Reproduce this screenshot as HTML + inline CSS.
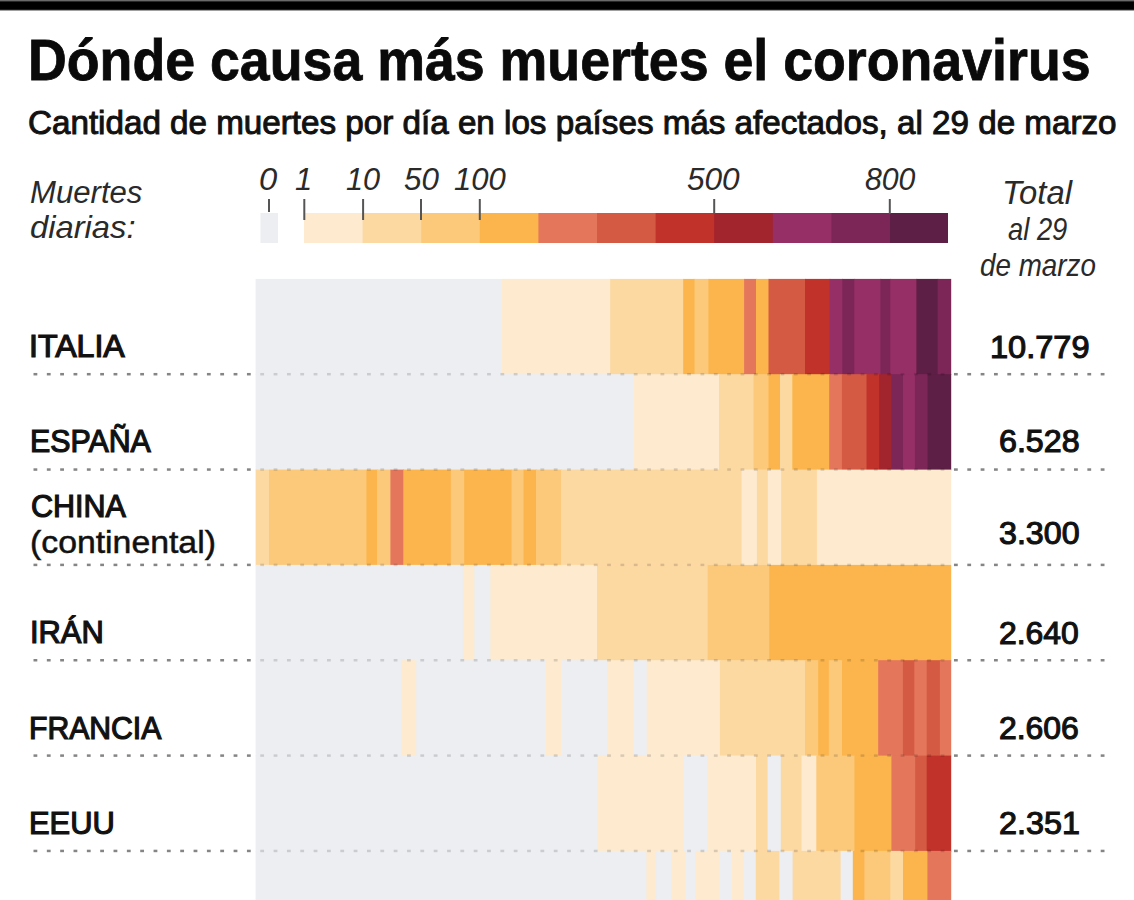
<!DOCTYPE html>
<html><head><meta charset="utf-8">
<style>
html,body{margin:0;padding:0;background:#fff;}
body{width:1134px;height:900px;position:relative;overflow:hidden;font-family:"Liberation Sans",sans-serif;color:#111;}
.t{position:absolute;white-space:nowrap;transform-origin:0 0;line-height:1;}
#bar{position:absolute;left:0;top:0;width:1134px;height:11px;background:linear-gradient(to bottom,#6a6a6a 0px,#6a6a6a 1px,#2a2a2a 1px,#2a2a2a 2px,#000 2px,#000 9px,#1e1e1e 9px,#1e1e1e 10px,#a0a0a0 10px,#a0a0a0 11px);}
</style></head><body>
<div id="bar"></div>
<svg width="1134" height="900" style="position:absolute;left:0;top:0"><rect x="255.6" y="278.9" width="247.2" height="96.1" fill="#eceef2"/><rect x="502.0" y="278.9" width="109.0" height="96.1" fill="#fdeacf"/><rect x="610.2" y="278.9" width="73.8" height="96.1" fill="#fdd9a2"/><rect x="683.2" y="278.9" width="12.1" height="96.1" fill="#fbb54c"/><rect x="694.5" y="278.9" width="14.7" height="96.1" fill="#fcc97b"/><rect x="708.4" y="278.9" width="36.5" height="96.1" fill="#fbb54c"/><rect x="744.1" y="278.9" width="12.7" height="96.1" fill="#e4765b"/><rect x="756.0" y="278.9" width="13.3" height="96.1" fill="#fbb54c"/><rect x="768.5" y="278.9" width="37.3" height="96.1" fill="#d55a43"/><rect x="805.0" y="278.9" width="25.4" height="96.1" fill="#c0322a"/><rect x="829.6" y="278.9" width="13.5" height="96.1" fill="#962f66"/><rect x="842.3" y="278.9" width="12.8" height="96.1" fill="#7c2658"/><rect x="854.3" y="278.9" width="26.9" height="96.1" fill="#962f66"/><rect x="880.4" y="278.9" width="10.7" height="96.1" fill="#7c2658"/><rect x="890.3" y="278.9" width="26.9" height="96.1" fill="#962f66"/><rect x="916.4" y="278.9" width="22.0" height="96.1" fill="#5d1f45"/><rect x="937.6" y="278.9" width="13.6" height="96.1" fill="#7c2658"/><rect x="255.6" y="374.2" width="379.2" height="96.1" fill="#eceef2"/><rect x="634.0" y="374.2" width="85.8" height="96.1" fill="#fdeacf"/><rect x="719.0" y="374.2" width="35.3" height="96.1" fill="#fdd9a2"/><rect x="753.5" y="374.2" width="15.8" height="96.1" fill="#fcc97b"/><rect x="768.5" y="374.2" width="12.3" height="96.1" fill="#fbb54c"/><rect x="780.0" y="374.2" width="13.1" height="96.1" fill="#fdd9a2"/><rect x="792.3" y="374.2" width="37.7" height="96.1" fill="#fbb54c"/><rect x="829.2" y="374.2" width="13.5" height="96.1" fill="#e4765b"/><rect x="841.9" y="374.2" width="25.4" height="96.1" fill="#d55a43"/><rect x="866.5" y="374.2" width="13.5" height="96.1" fill="#c0322a"/><rect x="879.2" y="374.2" width="12.7" height="96.1" fill="#a2242d"/><rect x="891.1" y="374.2" width="12.7" height="96.1" fill="#7c2658"/><rect x="903.0" y="374.2" width="12.7" height="96.1" fill="#962f66"/><rect x="914.9" y="374.2" width="13.5" height="96.1" fill="#7c2658"/><rect x="927.6" y="374.2" width="23.6" height="96.1" fill="#5d1f45"/><rect x="255.6" y="469.6" width="14.2" height="96.1" fill="#fdd9a2"/><rect x="269.0" y="469.6" width="98.2" height="96.1" fill="#fcc97b"/><rect x="366.4" y="469.6" width="11.4" height="96.1" fill="#fbb54c"/><rect x="377.0" y="469.6" width="14.2" height="96.1" fill="#fcc97b"/><rect x="390.4" y="469.6" width="13.7" height="96.1" fill="#e4765b"/><rect x="403.3" y="469.6" width="48.3" height="96.1" fill="#fbb54c"/><rect x="450.8" y="469.6" width="14.2" height="96.1" fill="#fcc97b"/><rect x="464.2" y="469.6" width="48.1" height="96.1" fill="#fbb54c"/><rect x="511.5" y="469.6" width="12.8" height="96.1" fill="#fcc97b"/><rect x="523.5" y="469.6" width="13.3" height="96.1" fill="#fbb54c"/><rect x="536.0" y="469.6" width="25.8" height="96.1" fill="#fcc97b"/><rect x="561.0" y="469.6" width="181.4" height="96.1" fill="#fdd9a2"/><rect x="741.6" y="469.6" width="16.1" height="96.1" fill="#fdeacf"/><rect x="756.9" y="469.6" width="11.7" height="96.1" fill="#fdd9a2"/><rect x="767.8" y="469.6" width="14.1" height="96.1" fill="#fdeacf"/><rect x="781.1" y="469.6" width="36.6" height="96.1" fill="#fdd9a2"/><rect x="816.9" y="469.6" width="134.3" height="96.1" fill="#fdeacf"/><rect x="255.6" y="564.9" width="208.1" height="96.1" fill="#eceef2"/><rect x="462.9" y="564.9" width="12.3" height="96.1" fill="#fdeacf"/><rect x="474.4" y="564.9" width="16.7" height="96.1" fill="#eceef2"/><rect x="490.3" y="564.9" width="107.5" height="96.1" fill="#fdeacf"/><rect x="597.0" y="564.9" width="111.4" height="96.1" fill="#fdd9a2"/><rect x="707.6" y="564.9" width="62.5" height="96.1" fill="#fcc97b"/><rect x="769.3" y="564.9" width="181.9" height="96.1" fill="#fbb54c"/><rect x="255.6" y="660.2" width="146.4" height="96.1" fill="#eceef2"/><rect x="401.2" y="660.2" width="15.8" height="96.1" fill="#fdeacf"/><rect x="416.2" y="660.2" width="130.3" height="96.1" fill="#eceef2"/><rect x="545.7" y="660.2" width="16.1" height="96.1" fill="#fdeacf"/><rect x="561.0" y="660.2" width="47.7" height="96.1" fill="#eceef2"/><rect x="607.9" y="660.2" width="26.4" height="96.1" fill="#fdeacf"/><rect x="633.5" y="660.2" width="14.0" height="96.1" fill="#eceef2"/><rect x="646.7" y="660.2" width="74.0" height="96.1" fill="#fdeacf"/><rect x="719.9" y="660.2" width="85.9" height="96.1" fill="#fdd9a2"/><rect x="805.0" y="660.2" width="14.0" height="96.1" fill="#fcc97b"/><rect x="818.2" y="660.2" width="11.4" height="96.1" fill="#fbb54c"/><rect x="828.8" y="660.2" width="14.0" height="96.1" fill="#fcc97b"/><rect x="842.0" y="660.2" width="37.0" height="96.1" fill="#fbb54c"/><rect x="878.2" y="660.2" width="25.5" height="96.1" fill="#e4765b"/><rect x="902.9" y="660.2" width="12.2" height="96.1" fill="#d55a43"/><rect x="914.3" y="660.2" width="13.2" height="96.1" fill="#e4765b"/><rect x="926.7" y="660.2" width="14.0" height="96.1" fill="#d55a43"/><rect x="939.9" y="660.2" width="11.3" height="96.1" fill="#e4765b"/><rect x="255.6" y="755.6" width="342.2" height="96.1" fill="#eceef2"/><rect x="597.0" y="755.6" width="87.3" height="96.1" fill="#fdeacf"/><rect x="683.5" y="755.6" width="24.6" height="96.1" fill="#eceef2"/><rect x="707.3" y="755.6" width="49.5" height="96.1" fill="#fdeacf"/><rect x="756.0" y="755.6" width="12.4" height="96.1" fill="#fdd9a2"/><rect x="767.6" y="755.6" width="14.0" height="96.1" fill="#eceef2"/><rect x="780.8" y="755.6" width="21.5" height="96.1" fill="#fdd9a2"/><rect x="801.5" y="755.6" width="15.6" height="96.1" fill="#fdeacf"/><rect x="816.3" y="755.6" width="38.9" height="96.1" fill="#fcc97b"/><rect x="854.4" y="755.6" width="37.8" height="96.1" fill="#fbb54c"/><rect x="891.4" y="755.6" width="24.6" height="96.1" fill="#e4765b"/><rect x="915.2" y="755.6" width="12.3" height="96.1" fill="#d55a43"/><rect x="926.7" y="755.6" width="24.5" height="96.1" fill="#c0322a"/><rect x="255.6" y="850.9" width="391.6" height="96.1" fill="#eceef2"/><rect x="646.4" y="850.9" width="10.5" height="96.1" fill="#fdeacf"/><rect x="656.1" y="850.9" width="15.8" height="96.1" fill="#eceef2"/><rect x="671.1" y="850.9" width="14.9" height="96.1" fill="#fdeacf"/><rect x="685.2" y="850.9" width="11.4" height="96.1" fill="#eceef2"/><rect x="695.8" y="850.9" width="24.6" height="96.1" fill="#fdeacf"/><rect x="719.6" y="850.9" width="13.2" height="96.1" fill="#eceef2"/><rect x="732.0" y="850.9" width="12.2" height="96.1" fill="#fdeacf"/><rect x="743.4" y="850.9" width="13.2" height="96.1" fill="#eceef2"/><rect x="755.8" y="850.9" width="24.4" height="96.1" fill="#fdd9a2"/><rect x="779.4" y="850.9" width="14.0" height="96.1" fill="#eceef2"/><rect x="792.6" y="850.9" width="48.8" height="96.1" fill="#fdd9a2"/><rect x="840.6" y="850.9" width="13.0" height="96.1" fill="#eceef2"/><rect x="852.8" y="850.9" width="12.4" height="96.1" fill="#fbb54c"/><rect x="864.4" y="850.9" width="26.7" height="96.1" fill="#fcc97b"/><rect x="890.3" y="850.9" width="13.5" height="96.1" fill="#fdd9a2"/><rect x="903.0" y="850.9" width="25.2" height="96.1" fill="#fbb54c"/><rect x="927.4" y="850.9" width="23.8" height="96.1" fill="#e4765b"/><rect x="33.50" y="372.95" width="3.8" height="2.5" fill="#858585"/><rect x="46.84" y="372.95" width="3.8" height="2.5" fill="#858585"/><rect x="60.18" y="372.95" width="3.8" height="2.5" fill="#858585"/><rect x="73.52" y="372.95" width="3.8" height="2.5" fill="#858585"/><rect x="86.86" y="372.95" width="3.8" height="2.5" fill="#858585"/><rect x="100.20" y="372.95" width="3.8" height="2.5" fill="#858585"/><rect x="113.54" y="372.95" width="3.8" height="2.5" fill="#858585"/><rect x="126.88" y="372.95" width="3.8" height="2.5" fill="#858585"/><rect x="140.22" y="372.95" width="3.8" height="2.5" fill="#858585"/><rect x="153.56" y="372.95" width="3.8" height="2.5" fill="#858585"/><rect x="166.90" y="372.95" width="3.8" height="2.5" fill="#858585"/><rect x="180.24" y="372.95" width="3.8" height="2.5" fill="#858585"/><rect x="193.58" y="372.95" width="3.8" height="2.5" fill="#858585"/><rect x="206.92" y="372.95" width="3.8" height="2.5" fill="#858585"/><rect x="220.26" y="372.95" width="3.8" height="2.5" fill="#858585"/><rect x="233.60" y="372.95" width="3.8" height="2.5" fill="#858585"/><rect x="246.94" y="372.95" width="3.8" height="2.5" fill="#858585"/><rect x="260.28" y="372.95" width="3.8" height="2.5" fill="rgba(0,0,0,0.14)"/><rect x="273.62" y="372.95" width="3.8" height="2.5" fill="rgba(0,0,0,0.14)"/><rect x="286.96" y="372.95" width="3.8" height="2.5" fill="rgba(0,0,0,0.14)"/><rect x="300.30" y="372.95" width="3.8" height="2.5" fill="rgba(0,0,0,0.14)"/><rect x="313.64" y="372.95" width="3.8" height="2.5" fill="rgba(0,0,0,0.14)"/><rect x="326.98" y="372.95" width="3.8" height="2.5" fill="rgba(0,0,0,0.14)"/><rect x="340.32" y="372.95" width="3.8" height="2.5" fill="rgba(0,0,0,0.14)"/><rect x="353.66" y="372.95" width="3.8" height="2.5" fill="rgba(0,0,0,0.14)"/><rect x="367.00" y="372.95" width="3.8" height="2.5" fill="rgba(0,0,0,0.14)"/><rect x="380.34" y="372.95" width="3.8" height="2.5" fill="rgba(0,0,0,0.14)"/><rect x="393.68" y="372.95" width="3.8" height="2.5" fill="rgba(0,0,0,0.14)"/><rect x="407.02" y="372.95" width="3.8" height="2.5" fill="rgba(0,0,0,0.14)"/><rect x="420.36" y="372.95" width="3.8" height="2.5" fill="rgba(0,0,0,0.14)"/><rect x="433.70" y="372.95" width="3.8" height="2.5" fill="rgba(0,0,0,0.14)"/><rect x="447.04" y="372.95" width="3.8" height="2.5" fill="rgba(0,0,0,0.14)"/><rect x="460.38" y="372.95" width="3.8" height="2.5" fill="rgba(0,0,0,0.14)"/><rect x="473.72" y="372.95" width="3.8" height="2.5" fill="rgba(0,0,0,0.14)"/><rect x="487.06" y="372.95" width="3.8" height="2.5" fill="rgba(0,0,0,0.14)"/><rect x="500.40" y="372.95" width="3.8" height="2.5" fill="rgba(0,0,0,0.14)"/><rect x="513.74" y="372.95" width="3.8" height="2.5" fill="rgba(0,0,0,0.14)"/><rect x="527.08" y="372.95" width="3.8" height="2.5" fill="rgba(0,0,0,0.14)"/><rect x="540.42" y="372.95" width="3.8" height="2.5" fill="rgba(0,0,0,0.14)"/><rect x="553.76" y="372.95" width="3.8" height="2.5" fill="rgba(0,0,0,0.14)"/><rect x="567.10" y="372.95" width="3.8" height="2.5" fill="rgba(0,0,0,0.14)"/><rect x="580.44" y="372.95" width="3.8" height="2.5" fill="rgba(0,0,0,0.14)"/><rect x="593.78" y="372.95" width="3.8" height="2.5" fill="rgba(0,0,0,0.14)"/><rect x="607.12" y="372.95" width="3.8" height="2.5" fill="rgba(0,0,0,0.14)"/><rect x="620.46" y="372.95" width="3.8" height="2.5" fill="rgba(0,0,0,0.14)"/><rect x="633.80" y="372.95" width="3.8" height="2.5" fill="rgba(0,0,0,0.14)"/><rect x="647.14" y="372.95" width="3.8" height="2.5" fill="rgba(0,0,0,0.14)"/><rect x="660.48" y="372.95" width="3.8" height="2.5" fill="rgba(0,0,0,0.14)"/><rect x="673.82" y="372.95" width="3.8" height="2.5" fill="rgba(0,0,0,0.14)"/><rect x="687.16" y="372.95" width="3.8" height="2.5" fill="rgba(0,0,0,0.14)"/><rect x="700.50" y="372.95" width="3.8" height="2.5" fill="rgba(0,0,0,0.14)"/><rect x="713.84" y="372.95" width="3.8" height="2.5" fill="rgba(0,0,0,0.14)"/><rect x="727.18" y="372.95" width="3.8" height="2.5" fill="rgba(0,0,0,0.14)"/><rect x="740.52" y="372.95" width="3.8" height="2.5" fill="rgba(0,0,0,0.14)"/><rect x="753.86" y="372.95" width="3.8" height="2.5" fill="rgba(0,0,0,0.14)"/><rect x="767.20" y="372.95" width="3.8" height="2.5" fill="rgba(0,0,0,0.14)"/><rect x="780.54" y="372.95" width="3.8" height="2.5" fill="rgba(0,0,0,0.14)"/><rect x="793.88" y="372.95" width="3.8" height="2.5" fill="rgba(0,0,0,0.14)"/><rect x="807.22" y="372.95" width="3.8" height="2.5" fill="rgba(0,0,0,0.14)"/><rect x="820.56" y="372.95" width="3.8" height="2.5" fill="rgba(0,0,0,0.14)"/><rect x="833.90" y="372.95" width="3.8" height="2.5" fill="rgba(0,0,0,0.14)"/><rect x="847.24" y="372.95" width="3.8" height="2.5" fill="rgba(0,0,0,0.14)"/><rect x="860.58" y="372.95" width="3.8" height="2.5" fill="rgba(0,0,0,0.14)"/><rect x="873.92" y="372.95" width="3.8" height="2.5" fill="rgba(0,0,0,0.14)"/><rect x="887.26" y="372.95" width="3.8" height="2.5" fill="rgba(0,0,0,0.14)"/><rect x="900.60" y="372.95" width="3.8" height="2.5" fill="rgba(0,0,0,0.14)"/><rect x="913.94" y="372.95" width="3.8" height="2.5" fill="rgba(0,0,0,0.14)"/><rect x="927.28" y="372.95" width="3.8" height="2.5" fill="rgba(0,0,0,0.14)"/><rect x="940.62" y="372.95" width="3.8" height="2.5" fill="rgba(0,0,0,0.14)"/><rect x="953.96" y="372.95" width="3.8" height="2.5" fill="#858585"/><rect x="967.30" y="372.95" width="3.8" height="2.5" fill="#858585"/><rect x="980.64" y="372.95" width="3.8" height="2.5" fill="#858585"/><rect x="993.98" y="372.95" width="3.8" height="2.5" fill="#858585"/><rect x="1007.32" y="372.95" width="3.8" height="2.5" fill="#858585"/><rect x="1020.66" y="372.95" width="3.8" height="2.5" fill="#858585"/><rect x="1034.00" y="372.95" width="3.8" height="2.5" fill="#858585"/><rect x="1047.34" y="372.95" width="3.8" height="2.5" fill="#858585"/><rect x="1060.68" y="372.95" width="3.8" height="2.5" fill="#858585"/><rect x="1074.02" y="372.95" width="3.8" height="2.5" fill="#858585"/><rect x="1087.36" y="372.95" width="3.8" height="2.5" fill="#858585"/><rect x="1100.70" y="372.95" width="3.8" height="2.5" fill="#858585"/><rect x="33.50" y="468.30" width="3.8" height="2.5" fill="#858585"/><rect x="46.84" y="468.30" width="3.8" height="2.5" fill="#858585"/><rect x="60.18" y="468.30" width="3.8" height="2.5" fill="#858585"/><rect x="73.52" y="468.30" width="3.8" height="2.5" fill="#858585"/><rect x="86.86" y="468.30" width="3.8" height="2.5" fill="#858585"/><rect x="100.20" y="468.30" width="3.8" height="2.5" fill="#858585"/><rect x="113.54" y="468.30" width="3.8" height="2.5" fill="#858585"/><rect x="126.88" y="468.30" width="3.8" height="2.5" fill="#858585"/><rect x="140.22" y="468.30" width="3.8" height="2.5" fill="#858585"/><rect x="153.56" y="468.30" width="3.8" height="2.5" fill="#858585"/><rect x="166.90" y="468.30" width="3.8" height="2.5" fill="#858585"/><rect x="180.24" y="468.30" width="3.8" height="2.5" fill="#858585"/><rect x="193.58" y="468.30" width="3.8" height="2.5" fill="#858585"/><rect x="206.92" y="468.30" width="3.8" height="2.5" fill="#858585"/><rect x="220.26" y="468.30" width="3.8" height="2.5" fill="#858585"/><rect x="233.60" y="468.30" width="3.8" height="2.5" fill="#858585"/><rect x="246.94" y="468.30" width="3.8" height="2.5" fill="#858585"/><rect x="260.28" y="468.30" width="3.8" height="2.5" fill="rgba(0,0,0,0.14)"/><rect x="273.62" y="468.30" width="3.8" height="2.5" fill="rgba(0,0,0,0.14)"/><rect x="286.96" y="468.30" width="3.8" height="2.5" fill="rgba(0,0,0,0.14)"/><rect x="300.30" y="468.30" width="3.8" height="2.5" fill="rgba(0,0,0,0.14)"/><rect x="313.64" y="468.30" width="3.8" height="2.5" fill="rgba(0,0,0,0.14)"/><rect x="326.98" y="468.30" width="3.8" height="2.5" fill="rgba(0,0,0,0.14)"/><rect x="340.32" y="468.30" width="3.8" height="2.5" fill="rgba(0,0,0,0.14)"/><rect x="353.66" y="468.30" width="3.8" height="2.5" fill="rgba(0,0,0,0.14)"/><rect x="367.00" y="468.30" width="3.8" height="2.5" fill="rgba(0,0,0,0.14)"/><rect x="380.34" y="468.30" width="3.8" height="2.5" fill="rgba(0,0,0,0.14)"/><rect x="393.68" y="468.30" width="3.8" height="2.5" fill="rgba(0,0,0,0.14)"/><rect x="407.02" y="468.30" width="3.8" height="2.5" fill="rgba(0,0,0,0.14)"/><rect x="420.36" y="468.30" width="3.8" height="2.5" fill="rgba(0,0,0,0.14)"/><rect x="433.70" y="468.30" width="3.8" height="2.5" fill="rgba(0,0,0,0.14)"/><rect x="447.04" y="468.30" width="3.8" height="2.5" fill="rgba(0,0,0,0.14)"/><rect x="460.38" y="468.30" width="3.8" height="2.5" fill="rgba(0,0,0,0.14)"/><rect x="473.72" y="468.30" width="3.8" height="2.5" fill="rgba(0,0,0,0.14)"/><rect x="487.06" y="468.30" width="3.8" height="2.5" fill="rgba(0,0,0,0.14)"/><rect x="500.40" y="468.30" width="3.8" height="2.5" fill="rgba(0,0,0,0.14)"/><rect x="513.74" y="468.30" width="3.8" height="2.5" fill="rgba(0,0,0,0.14)"/><rect x="527.08" y="468.30" width="3.8" height="2.5" fill="rgba(0,0,0,0.14)"/><rect x="540.42" y="468.30" width="3.8" height="2.5" fill="rgba(0,0,0,0.14)"/><rect x="553.76" y="468.30" width="3.8" height="2.5" fill="rgba(0,0,0,0.14)"/><rect x="567.10" y="468.30" width="3.8" height="2.5" fill="rgba(0,0,0,0.14)"/><rect x="580.44" y="468.30" width="3.8" height="2.5" fill="rgba(0,0,0,0.14)"/><rect x="593.78" y="468.30" width="3.8" height="2.5" fill="rgba(0,0,0,0.14)"/><rect x="607.12" y="468.30" width="3.8" height="2.5" fill="rgba(0,0,0,0.14)"/><rect x="620.46" y="468.30" width="3.8" height="2.5" fill="rgba(0,0,0,0.14)"/><rect x="633.80" y="468.30" width="3.8" height="2.5" fill="rgba(0,0,0,0.14)"/><rect x="647.14" y="468.30" width="3.8" height="2.5" fill="rgba(0,0,0,0.14)"/><rect x="660.48" y="468.30" width="3.8" height="2.5" fill="rgba(0,0,0,0.14)"/><rect x="673.82" y="468.30" width="3.8" height="2.5" fill="rgba(0,0,0,0.14)"/><rect x="687.16" y="468.30" width="3.8" height="2.5" fill="rgba(0,0,0,0.14)"/><rect x="700.50" y="468.30" width="3.8" height="2.5" fill="rgba(0,0,0,0.14)"/><rect x="713.84" y="468.30" width="3.8" height="2.5" fill="rgba(0,0,0,0.14)"/><rect x="727.18" y="468.30" width="3.8" height="2.5" fill="rgba(0,0,0,0.14)"/><rect x="740.52" y="468.30" width="3.8" height="2.5" fill="rgba(0,0,0,0.14)"/><rect x="753.86" y="468.30" width="3.8" height="2.5" fill="rgba(0,0,0,0.14)"/><rect x="767.20" y="468.30" width="3.8" height="2.5" fill="rgba(0,0,0,0.14)"/><rect x="780.54" y="468.30" width="3.8" height="2.5" fill="rgba(0,0,0,0.14)"/><rect x="793.88" y="468.30" width="3.8" height="2.5" fill="rgba(0,0,0,0.14)"/><rect x="807.22" y="468.30" width="3.8" height="2.5" fill="rgba(0,0,0,0.14)"/><rect x="820.56" y="468.30" width="3.8" height="2.5" fill="rgba(0,0,0,0.14)"/><rect x="833.90" y="468.30" width="3.8" height="2.5" fill="rgba(0,0,0,0.14)"/><rect x="847.24" y="468.30" width="3.8" height="2.5" fill="rgba(0,0,0,0.14)"/><rect x="860.58" y="468.30" width="3.8" height="2.5" fill="rgba(0,0,0,0.14)"/><rect x="873.92" y="468.30" width="3.8" height="2.5" fill="rgba(0,0,0,0.14)"/><rect x="887.26" y="468.30" width="3.8" height="2.5" fill="rgba(0,0,0,0.14)"/><rect x="900.60" y="468.30" width="3.8" height="2.5" fill="rgba(0,0,0,0.14)"/><rect x="913.94" y="468.30" width="3.8" height="2.5" fill="rgba(0,0,0,0.14)"/><rect x="927.28" y="468.30" width="3.8" height="2.5" fill="rgba(0,0,0,0.14)"/><rect x="940.62" y="468.30" width="3.8" height="2.5" fill="rgba(0,0,0,0.14)"/><rect x="953.96" y="468.30" width="3.8" height="2.5" fill="#858585"/><rect x="967.30" y="468.30" width="3.8" height="2.5" fill="#858585"/><rect x="980.64" y="468.30" width="3.8" height="2.5" fill="#858585"/><rect x="993.98" y="468.30" width="3.8" height="2.5" fill="#858585"/><rect x="1007.32" y="468.30" width="3.8" height="2.5" fill="#858585"/><rect x="1020.66" y="468.30" width="3.8" height="2.5" fill="#858585"/><rect x="1034.00" y="468.30" width="3.8" height="2.5" fill="#858585"/><rect x="1047.34" y="468.30" width="3.8" height="2.5" fill="#858585"/><rect x="1060.68" y="468.30" width="3.8" height="2.5" fill="#858585"/><rect x="1074.02" y="468.30" width="3.8" height="2.5" fill="#858585"/><rect x="1087.36" y="468.30" width="3.8" height="2.5" fill="#858585"/><rect x="1100.70" y="468.30" width="3.8" height="2.5" fill="#858585"/><rect x="33.50" y="563.65" width="3.8" height="2.5" fill="#858585"/><rect x="46.84" y="563.65" width="3.8" height="2.5" fill="#858585"/><rect x="60.18" y="563.65" width="3.8" height="2.5" fill="#858585"/><rect x="73.52" y="563.65" width="3.8" height="2.5" fill="#858585"/><rect x="86.86" y="563.65" width="3.8" height="2.5" fill="#858585"/><rect x="100.20" y="563.65" width="3.8" height="2.5" fill="#858585"/><rect x="113.54" y="563.65" width="3.8" height="2.5" fill="#858585"/><rect x="126.88" y="563.65" width="3.8" height="2.5" fill="#858585"/><rect x="140.22" y="563.65" width="3.8" height="2.5" fill="#858585"/><rect x="153.56" y="563.65" width="3.8" height="2.5" fill="#858585"/><rect x="166.90" y="563.65" width="3.8" height="2.5" fill="#858585"/><rect x="180.24" y="563.65" width="3.8" height="2.5" fill="#858585"/><rect x="193.58" y="563.65" width="3.8" height="2.5" fill="#858585"/><rect x="206.92" y="563.65" width="3.8" height="2.5" fill="#858585"/><rect x="220.26" y="563.65" width="3.8" height="2.5" fill="#858585"/><rect x="233.60" y="563.65" width="3.8" height="2.5" fill="#858585"/><rect x="246.94" y="563.65" width="3.8" height="2.5" fill="#858585"/><rect x="260.28" y="563.65" width="3.8" height="2.5" fill="rgba(0,0,0,0.14)"/><rect x="273.62" y="563.65" width="3.8" height="2.5" fill="rgba(0,0,0,0.14)"/><rect x="286.96" y="563.65" width="3.8" height="2.5" fill="rgba(0,0,0,0.14)"/><rect x="300.30" y="563.65" width="3.8" height="2.5" fill="rgba(0,0,0,0.14)"/><rect x="313.64" y="563.65" width="3.8" height="2.5" fill="rgba(0,0,0,0.14)"/><rect x="326.98" y="563.65" width="3.8" height="2.5" fill="rgba(0,0,0,0.14)"/><rect x="340.32" y="563.65" width="3.8" height="2.5" fill="rgba(0,0,0,0.14)"/><rect x="353.66" y="563.65" width="3.8" height="2.5" fill="rgba(0,0,0,0.14)"/><rect x="367.00" y="563.65" width="3.8" height="2.5" fill="rgba(0,0,0,0.14)"/><rect x="380.34" y="563.65" width="3.8" height="2.5" fill="rgba(0,0,0,0.14)"/><rect x="393.68" y="563.65" width="3.8" height="2.5" fill="rgba(0,0,0,0.14)"/><rect x="407.02" y="563.65" width="3.8" height="2.5" fill="rgba(0,0,0,0.14)"/><rect x="420.36" y="563.65" width="3.8" height="2.5" fill="rgba(0,0,0,0.14)"/><rect x="433.70" y="563.65" width="3.8" height="2.5" fill="rgba(0,0,0,0.14)"/><rect x="447.04" y="563.65" width="3.8" height="2.5" fill="rgba(0,0,0,0.14)"/><rect x="460.38" y="563.65" width="3.8" height="2.5" fill="rgba(0,0,0,0.14)"/><rect x="473.72" y="563.65" width="3.8" height="2.5" fill="rgba(0,0,0,0.14)"/><rect x="487.06" y="563.65" width="3.8" height="2.5" fill="rgba(0,0,0,0.14)"/><rect x="500.40" y="563.65" width="3.8" height="2.5" fill="rgba(0,0,0,0.14)"/><rect x="513.74" y="563.65" width="3.8" height="2.5" fill="rgba(0,0,0,0.14)"/><rect x="527.08" y="563.65" width="3.8" height="2.5" fill="rgba(0,0,0,0.14)"/><rect x="540.42" y="563.65" width="3.8" height="2.5" fill="rgba(0,0,0,0.14)"/><rect x="553.76" y="563.65" width="3.8" height="2.5" fill="rgba(0,0,0,0.14)"/><rect x="567.10" y="563.65" width="3.8" height="2.5" fill="rgba(0,0,0,0.14)"/><rect x="580.44" y="563.65" width="3.8" height="2.5" fill="rgba(0,0,0,0.14)"/><rect x="593.78" y="563.65" width="3.8" height="2.5" fill="rgba(0,0,0,0.14)"/><rect x="607.12" y="563.65" width="3.8" height="2.5" fill="rgba(0,0,0,0.14)"/><rect x="620.46" y="563.65" width="3.8" height="2.5" fill="rgba(0,0,0,0.14)"/><rect x="633.80" y="563.65" width="3.8" height="2.5" fill="rgba(0,0,0,0.14)"/><rect x="647.14" y="563.65" width="3.8" height="2.5" fill="rgba(0,0,0,0.14)"/><rect x="660.48" y="563.65" width="3.8" height="2.5" fill="rgba(0,0,0,0.14)"/><rect x="673.82" y="563.65" width="3.8" height="2.5" fill="rgba(0,0,0,0.14)"/><rect x="687.16" y="563.65" width="3.8" height="2.5" fill="rgba(0,0,0,0.14)"/><rect x="700.50" y="563.65" width="3.8" height="2.5" fill="rgba(0,0,0,0.14)"/><rect x="713.84" y="563.65" width="3.8" height="2.5" fill="rgba(0,0,0,0.14)"/><rect x="727.18" y="563.65" width="3.8" height="2.5" fill="rgba(0,0,0,0.14)"/><rect x="740.52" y="563.65" width="3.8" height="2.5" fill="rgba(0,0,0,0.14)"/><rect x="753.86" y="563.65" width="3.8" height="2.5" fill="rgba(0,0,0,0.14)"/><rect x="767.20" y="563.65" width="3.8" height="2.5" fill="rgba(0,0,0,0.14)"/><rect x="780.54" y="563.65" width="3.8" height="2.5" fill="rgba(0,0,0,0.14)"/><rect x="793.88" y="563.65" width="3.8" height="2.5" fill="rgba(0,0,0,0.14)"/><rect x="807.22" y="563.65" width="3.8" height="2.5" fill="rgba(0,0,0,0.14)"/><rect x="820.56" y="563.65" width="3.8" height="2.5" fill="rgba(0,0,0,0.14)"/><rect x="833.90" y="563.65" width="3.8" height="2.5" fill="rgba(0,0,0,0.14)"/><rect x="847.24" y="563.65" width="3.8" height="2.5" fill="rgba(0,0,0,0.14)"/><rect x="860.58" y="563.65" width="3.8" height="2.5" fill="rgba(0,0,0,0.14)"/><rect x="873.92" y="563.65" width="3.8" height="2.5" fill="rgba(0,0,0,0.14)"/><rect x="887.26" y="563.65" width="3.8" height="2.5" fill="rgba(0,0,0,0.14)"/><rect x="900.60" y="563.65" width="3.8" height="2.5" fill="rgba(0,0,0,0.14)"/><rect x="913.94" y="563.65" width="3.8" height="2.5" fill="rgba(0,0,0,0.14)"/><rect x="927.28" y="563.65" width="3.8" height="2.5" fill="rgba(0,0,0,0.14)"/><rect x="940.62" y="563.65" width="3.8" height="2.5" fill="rgba(0,0,0,0.14)"/><rect x="953.96" y="563.65" width="3.8" height="2.5" fill="#858585"/><rect x="967.30" y="563.65" width="3.8" height="2.5" fill="#858585"/><rect x="980.64" y="563.65" width="3.8" height="2.5" fill="#858585"/><rect x="993.98" y="563.65" width="3.8" height="2.5" fill="#858585"/><rect x="1007.32" y="563.65" width="3.8" height="2.5" fill="#858585"/><rect x="1020.66" y="563.65" width="3.8" height="2.5" fill="#858585"/><rect x="1034.00" y="563.65" width="3.8" height="2.5" fill="#858585"/><rect x="1047.34" y="563.65" width="3.8" height="2.5" fill="#858585"/><rect x="1060.68" y="563.65" width="3.8" height="2.5" fill="#858585"/><rect x="1074.02" y="563.65" width="3.8" height="2.5" fill="#858585"/><rect x="1087.36" y="563.65" width="3.8" height="2.5" fill="#858585"/><rect x="1100.70" y="563.65" width="3.8" height="2.5" fill="#858585"/><rect x="33.50" y="659.00" width="3.8" height="2.5" fill="#858585"/><rect x="46.84" y="659.00" width="3.8" height="2.5" fill="#858585"/><rect x="60.18" y="659.00" width="3.8" height="2.5" fill="#858585"/><rect x="73.52" y="659.00" width="3.8" height="2.5" fill="#858585"/><rect x="86.86" y="659.00" width="3.8" height="2.5" fill="#858585"/><rect x="100.20" y="659.00" width="3.8" height="2.5" fill="#858585"/><rect x="113.54" y="659.00" width="3.8" height="2.5" fill="#858585"/><rect x="126.88" y="659.00" width="3.8" height="2.5" fill="#858585"/><rect x="140.22" y="659.00" width="3.8" height="2.5" fill="#858585"/><rect x="153.56" y="659.00" width="3.8" height="2.5" fill="#858585"/><rect x="166.90" y="659.00" width="3.8" height="2.5" fill="#858585"/><rect x="180.24" y="659.00" width="3.8" height="2.5" fill="#858585"/><rect x="193.58" y="659.00" width="3.8" height="2.5" fill="#858585"/><rect x="206.92" y="659.00" width="3.8" height="2.5" fill="#858585"/><rect x="220.26" y="659.00" width="3.8" height="2.5" fill="#858585"/><rect x="233.60" y="659.00" width="3.8" height="2.5" fill="#858585"/><rect x="246.94" y="659.00" width="3.8" height="2.5" fill="#858585"/><rect x="260.28" y="659.00" width="3.8" height="2.5" fill="rgba(0,0,0,0.14)"/><rect x="273.62" y="659.00" width="3.8" height="2.5" fill="rgba(0,0,0,0.14)"/><rect x="286.96" y="659.00" width="3.8" height="2.5" fill="rgba(0,0,0,0.14)"/><rect x="300.30" y="659.00" width="3.8" height="2.5" fill="rgba(0,0,0,0.14)"/><rect x="313.64" y="659.00" width="3.8" height="2.5" fill="rgba(0,0,0,0.14)"/><rect x="326.98" y="659.00" width="3.8" height="2.5" fill="rgba(0,0,0,0.14)"/><rect x="340.32" y="659.00" width="3.8" height="2.5" fill="rgba(0,0,0,0.14)"/><rect x="353.66" y="659.00" width="3.8" height="2.5" fill="rgba(0,0,0,0.14)"/><rect x="367.00" y="659.00" width="3.8" height="2.5" fill="rgba(0,0,0,0.14)"/><rect x="380.34" y="659.00" width="3.8" height="2.5" fill="rgba(0,0,0,0.14)"/><rect x="393.68" y="659.00" width="3.8" height="2.5" fill="rgba(0,0,0,0.14)"/><rect x="407.02" y="659.00" width="3.8" height="2.5" fill="rgba(0,0,0,0.14)"/><rect x="420.36" y="659.00" width="3.8" height="2.5" fill="rgba(0,0,0,0.14)"/><rect x="433.70" y="659.00" width="3.8" height="2.5" fill="rgba(0,0,0,0.14)"/><rect x="447.04" y="659.00" width="3.8" height="2.5" fill="rgba(0,0,0,0.14)"/><rect x="460.38" y="659.00" width="3.8" height="2.5" fill="rgba(0,0,0,0.14)"/><rect x="473.72" y="659.00" width="3.8" height="2.5" fill="rgba(0,0,0,0.14)"/><rect x="487.06" y="659.00" width="3.8" height="2.5" fill="rgba(0,0,0,0.14)"/><rect x="500.40" y="659.00" width="3.8" height="2.5" fill="rgba(0,0,0,0.14)"/><rect x="513.74" y="659.00" width="3.8" height="2.5" fill="rgba(0,0,0,0.14)"/><rect x="527.08" y="659.00" width="3.8" height="2.5" fill="rgba(0,0,0,0.14)"/><rect x="540.42" y="659.00" width="3.8" height="2.5" fill="rgba(0,0,0,0.14)"/><rect x="553.76" y="659.00" width="3.8" height="2.5" fill="rgba(0,0,0,0.14)"/><rect x="567.10" y="659.00" width="3.8" height="2.5" fill="rgba(0,0,0,0.14)"/><rect x="580.44" y="659.00" width="3.8" height="2.5" fill="rgba(0,0,0,0.14)"/><rect x="593.78" y="659.00" width="3.8" height="2.5" fill="rgba(0,0,0,0.14)"/><rect x="607.12" y="659.00" width="3.8" height="2.5" fill="rgba(0,0,0,0.14)"/><rect x="620.46" y="659.00" width="3.8" height="2.5" fill="rgba(0,0,0,0.14)"/><rect x="633.80" y="659.00" width="3.8" height="2.5" fill="rgba(0,0,0,0.14)"/><rect x="647.14" y="659.00" width="3.8" height="2.5" fill="rgba(0,0,0,0.14)"/><rect x="660.48" y="659.00" width="3.8" height="2.5" fill="rgba(0,0,0,0.14)"/><rect x="673.82" y="659.00" width="3.8" height="2.5" fill="rgba(0,0,0,0.14)"/><rect x="687.16" y="659.00" width="3.8" height="2.5" fill="rgba(0,0,0,0.14)"/><rect x="700.50" y="659.00" width="3.8" height="2.5" fill="rgba(0,0,0,0.14)"/><rect x="713.84" y="659.00" width="3.8" height="2.5" fill="rgba(0,0,0,0.14)"/><rect x="727.18" y="659.00" width="3.8" height="2.5" fill="rgba(0,0,0,0.14)"/><rect x="740.52" y="659.00" width="3.8" height="2.5" fill="rgba(0,0,0,0.14)"/><rect x="753.86" y="659.00" width="3.8" height="2.5" fill="rgba(0,0,0,0.14)"/><rect x="767.20" y="659.00" width="3.8" height="2.5" fill="rgba(0,0,0,0.14)"/><rect x="780.54" y="659.00" width="3.8" height="2.5" fill="rgba(0,0,0,0.14)"/><rect x="793.88" y="659.00" width="3.8" height="2.5" fill="rgba(0,0,0,0.14)"/><rect x="807.22" y="659.00" width="3.8" height="2.5" fill="rgba(0,0,0,0.14)"/><rect x="820.56" y="659.00" width="3.8" height="2.5" fill="rgba(0,0,0,0.14)"/><rect x="833.90" y="659.00" width="3.8" height="2.5" fill="rgba(0,0,0,0.14)"/><rect x="847.24" y="659.00" width="3.8" height="2.5" fill="rgba(0,0,0,0.14)"/><rect x="860.58" y="659.00" width="3.8" height="2.5" fill="rgba(0,0,0,0.14)"/><rect x="873.92" y="659.00" width="3.8" height="2.5" fill="rgba(0,0,0,0.14)"/><rect x="887.26" y="659.00" width="3.8" height="2.5" fill="rgba(0,0,0,0.14)"/><rect x="900.60" y="659.00" width="3.8" height="2.5" fill="rgba(0,0,0,0.14)"/><rect x="913.94" y="659.00" width="3.8" height="2.5" fill="rgba(0,0,0,0.14)"/><rect x="927.28" y="659.00" width="3.8" height="2.5" fill="rgba(0,0,0,0.14)"/><rect x="940.62" y="659.00" width="3.8" height="2.5" fill="rgba(0,0,0,0.14)"/><rect x="953.96" y="659.00" width="3.8" height="2.5" fill="#858585"/><rect x="967.30" y="659.00" width="3.8" height="2.5" fill="#858585"/><rect x="980.64" y="659.00" width="3.8" height="2.5" fill="#858585"/><rect x="993.98" y="659.00" width="3.8" height="2.5" fill="#858585"/><rect x="1007.32" y="659.00" width="3.8" height="2.5" fill="#858585"/><rect x="1020.66" y="659.00" width="3.8" height="2.5" fill="#858585"/><rect x="1034.00" y="659.00" width="3.8" height="2.5" fill="#858585"/><rect x="1047.34" y="659.00" width="3.8" height="2.5" fill="#858585"/><rect x="1060.68" y="659.00" width="3.8" height="2.5" fill="#858585"/><rect x="1074.02" y="659.00" width="3.8" height="2.5" fill="#858585"/><rect x="1087.36" y="659.00" width="3.8" height="2.5" fill="#858585"/><rect x="1100.70" y="659.00" width="3.8" height="2.5" fill="#858585"/><rect x="33.50" y="754.35" width="3.8" height="2.5" fill="#858585"/><rect x="46.84" y="754.35" width="3.8" height="2.5" fill="#858585"/><rect x="60.18" y="754.35" width="3.8" height="2.5" fill="#858585"/><rect x="73.52" y="754.35" width="3.8" height="2.5" fill="#858585"/><rect x="86.86" y="754.35" width="3.8" height="2.5" fill="#858585"/><rect x="100.20" y="754.35" width="3.8" height="2.5" fill="#858585"/><rect x="113.54" y="754.35" width="3.8" height="2.5" fill="#858585"/><rect x="126.88" y="754.35" width="3.8" height="2.5" fill="#858585"/><rect x="140.22" y="754.35" width="3.8" height="2.5" fill="#858585"/><rect x="153.56" y="754.35" width="3.8" height="2.5" fill="#858585"/><rect x="166.90" y="754.35" width="3.8" height="2.5" fill="#858585"/><rect x="180.24" y="754.35" width="3.8" height="2.5" fill="#858585"/><rect x="193.58" y="754.35" width="3.8" height="2.5" fill="#858585"/><rect x="206.92" y="754.35" width="3.8" height="2.5" fill="#858585"/><rect x="220.26" y="754.35" width="3.8" height="2.5" fill="#858585"/><rect x="233.60" y="754.35" width="3.8" height="2.5" fill="#858585"/><rect x="246.94" y="754.35" width="3.8" height="2.5" fill="#858585"/><rect x="260.28" y="754.35" width="3.8" height="2.5" fill="rgba(0,0,0,0.14)"/><rect x="273.62" y="754.35" width="3.8" height="2.5" fill="rgba(0,0,0,0.14)"/><rect x="286.96" y="754.35" width="3.8" height="2.5" fill="rgba(0,0,0,0.14)"/><rect x="300.30" y="754.35" width="3.8" height="2.5" fill="rgba(0,0,0,0.14)"/><rect x="313.64" y="754.35" width="3.8" height="2.5" fill="rgba(0,0,0,0.14)"/><rect x="326.98" y="754.35" width="3.8" height="2.5" fill="rgba(0,0,0,0.14)"/><rect x="340.32" y="754.35" width="3.8" height="2.5" fill="rgba(0,0,0,0.14)"/><rect x="353.66" y="754.35" width="3.8" height="2.5" fill="rgba(0,0,0,0.14)"/><rect x="367.00" y="754.35" width="3.8" height="2.5" fill="rgba(0,0,0,0.14)"/><rect x="380.34" y="754.35" width="3.8" height="2.5" fill="rgba(0,0,0,0.14)"/><rect x="393.68" y="754.35" width="3.8" height="2.5" fill="rgba(0,0,0,0.14)"/><rect x="407.02" y="754.35" width="3.8" height="2.5" fill="rgba(0,0,0,0.14)"/><rect x="420.36" y="754.35" width="3.8" height="2.5" fill="rgba(0,0,0,0.14)"/><rect x="433.70" y="754.35" width="3.8" height="2.5" fill="rgba(0,0,0,0.14)"/><rect x="447.04" y="754.35" width="3.8" height="2.5" fill="rgba(0,0,0,0.14)"/><rect x="460.38" y="754.35" width="3.8" height="2.5" fill="rgba(0,0,0,0.14)"/><rect x="473.72" y="754.35" width="3.8" height="2.5" fill="rgba(0,0,0,0.14)"/><rect x="487.06" y="754.35" width="3.8" height="2.5" fill="rgba(0,0,0,0.14)"/><rect x="500.40" y="754.35" width="3.8" height="2.5" fill="rgba(0,0,0,0.14)"/><rect x="513.74" y="754.35" width="3.8" height="2.5" fill="rgba(0,0,0,0.14)"/><rect x="527.08" y="754.35" width="3.8" height="2.5" fill="rgba(0,0,0,0.14)"/><rect x="540.42" y="754.35" width="3.8" height="2.5" fill="rgba(0,0,0,0.14)"/><rect x="553.76" y="754.35" width="3.8" height="2.5" fill="rgba(0,0,0,0.14)"/><rect x="567.10" y="754.35" width="3.8" height="2.5" fill="rgba(0,0,0,0.14)"/><rect x="580.44" y="754.35" width="3.8" height="2.5" fill="rgba(0,0,0,0.14)"/><rect x="593.78" y="754.35" width="3.8" height="2.5" fill="rgba(0,0,0,0.14)"/><rect x="607.12" y="754.35" width="3.8" height="2.5" fill="rgba(0,0,0,0.14)"/><rect x="620.46" y="754.35" width="3.8" height="2.5" fill="rgba(0,0,0,0.14)"/><rect x="633.80" y="754.35" width="3.8" height="2.5" fill="rgba(0,0,0,0.14)"/><rect x="647.14" y="754.35" width="3.8" height="2.5" fill="rgba(0,0,0,0.14)"/><rect x="660.48" y="754.35" width="3.8" height="2.5" fill="rgba(0,0,0,0.14)"/><rect x="673.82" y="754.35" width="3.8" height="2.5" fill="rgba(0,0,0,0.14)"/><rect x="687.16" y="754.35" width="3.8" height="2.5" fill="rgba(0,0,0,0.14)"/><rect x="700.50" y="754.35" width="3.8" height="2.5" fill="rgba(0,0,0,0.14)"/><rect x="713.84" y="754.35" width="3.8" height="2.5" fill="rgba(0,0,0,0.14)"/><rect x="727.18" y="754.35" width="3.8" height="2.5" fill="rgba(0,0,0,0.14)"/><rect x="740.52" y="754.35" width="3.8" height="2.5" fill="rgba(0,0,0,0.14)"/><rect x="753.86" y="754.35" width="3.8" height="2.5" fill="rgba(0,0,0,0.14)"/><rect x="767.20" y="754.35" width="3.8" height="2.5" fill="rgba(0,0,0,0.14)"/><rect x="780.54" y="754.35" width="3.8" height="2.5" fill="rgba(0,0,0,0.14)"/><rect x="793.88" y="754.35" width="3.8" height="2.5" fill="rgba(0,0,0,0.14)"/><rect x="807.22" y="754.35" width="3.8" height="2.5" fill="rgba(0,0,0,0.14)"/><rect x="820.56" y="754.35" width="3.8" height="2.5" fill="rgba(0,0,0,0.14)"/><rect x="833.90" y="754.35" width="3.8" height="2.5" fill="rgba(0,0,0,0.14)"/><rect x="847.24" y="754.35" width="3.8" height="2.5" fill="rgba(0,0,0,0.14)"/><rect x="860.58" y="754.35" width="3.8" height="2.5" fill="rgba(0,0,0,0.14)"/><rect x="873.92" y="754.35" width="3.8" height="2.5" fill="rgba(0,0,0,0.14)"/><rect x="887.26" y="754.35" width="3.8" height="2.5" fill="rgba(0,0,0,0.14)"/><rect x="900.60" y="754.35" width="3.8" height="2.5" fill="rgba(0,0,0,0.14)"/><rect x="913.94" y="754.35" width="3.8" height="2.5" fill="rgba(0,0,0,0.14)"/><rect x="927.28" y="754.35" width="3.8" height="2.5" fill="rgba(0,0,0,0.14)"/><rect x="940.62" y="754.35" width="3.8" height="2.5" fill="rgba(0,0,0,0.14)"/><rect x="953.96" y="754.35" width="3.8" height="2.5" fill="#858585"/><rect x="967.30" y="754.35" width="3.8" height="2.5" fill="#858585"/><rect x="980.64" y="754.35" width="3.8" height="2.5" fill="#858585"/><rect x="993.98" y="754.35" width="3.8" height="2.5" fill="#858585"/><rect x="1007.32" y="754.35" width="3.8" height="2.5" fill="#858585"/><rect x="1020.66" y="754.35" width="3.8" height="2.5" fill="#858585"/><rect x="1034.00" y="754.35" width="3.8" height="2.5" fill="#858585"/><rect x="1047.34" y="754.35" width="3.8" height="2.5" fill="#858585"/><rect x="1060.68" y="754.35" width="3.8" height="2.5" fill="#858585"/><rect x="1074.02" y="754.35" width="3.8" height="2.5" fill="#858585"/><rect x="1087.36" y="754.35" width="3.8" height="2.5" fill="#858585"/><rect x="1100.70" y="754.35" width="3.8" height="2.5" fill="#858585"/><rect x="33.50" y="849.70" width="3.8" height="2.5" fill="#858585"/><rect x="46.84" y="849.70" width="3.8" height="2.5" fill="#858585"/><rect x="60.18" y="849.70" width="3.8" height="2.5" fill="#858585"/><rect x="73.52" y="849.70" width="3.8" height="2.5" fill="#858585"/><rect x="86.86" y="849.70" width="3.8" height="2.5" fill="#858585"/><rect x="100.20" y="849.70" width="3.8" height="2.5" fill="#858585"/><rect x="113.54" y="849.70" width="3.8" height="2.5" fill="#858585"/><rect x="126.88" y="849.70" width="3.8" height="2.5" fill="#858585"/><rect x="140.22" y="849.70" width="3.8" height="2.5" fill="#858585"/><rect x="153.56" y="849.70" width="3.8" height="2.5" fill="#858585"/><rect x="166.90" y="849.70" width="3.8" height="2.5" fill="#858585"/><rect x="180.24" y="849.70" width="3.8" height="2.5" fill="#858585"/><rect x="193.58" y="849.70" width="3.8" height="2.5" fill="#858585"/><rect x="206.92" y="849.70" width="3.8" height="2.5" fill="#858585"/><rect x="220.26" y="849.70" width="3.8" height="2.5" fill="#858585"/><rect x="233.60" y="849.70" width="3.8" height="2.5" fill="#858585"/><rect x="246.94" y="849.70" width="3.8" height="2.5" fill="#858585"/><rect x="260.28" y="849.70" width="3.8" height="2.5" fill="rgba(0,0,0,0.14)"/><rect x="273.62" y="849.70" width="3.8" height="2.5" fill="rgba(0,0,0,0.14)"/><rect x="286.96" y="849.70" width="3.8" height="2.5" fill="rgba(0,0,0,0.14)"/><rect x="300.30" y="849.70" width="3.8" height="2.5" fill="rgba(0,0,0,0.14)"/><rect x="313.64" y="849.70" width="3.8" height="2.5" fill="rgba(0,0,0,0.14)"/><rect x="326.98" y="849.70" width="3.8" height="2.5" fill="rgba(0,0,0,0.14)"/><rect x="340.32" y="849.70" width="3.8" height="2.5" fill="rgba(0,0,0,0.14)"/><rect x="353.66" y="849.70" width="3.8" height="2.5" fill="rgba(0,0,0,0.14)"/><rect x="367.00" y="849.70" width="3.8" height="2.5" fill="rgba(0,0,0,0.14)"/><rect x="380.34" y="849.70" width="3.8" height="2.5" fill="rgba(0,0,0,0.14)"/><rect x="393.68" y="849.70" width="3.8" height="2.5" fill="rgba(0,0,0,0.14)"/><rect x="407.02" y="849.70" width="3.8" height="2.5" fill="rgba(0,0,0,0.14)"/><rect x="420.36" y="849.70" width="3.8" height="2.5" fill="rgba(0,0,0,0.14)"/><rect x="433.70" y="849.70" width="3.8" height="2.5" fill="rgba(0,0,0,0.14)"/><rect x="447.04" y="849.70" width="3.8" height="2.5" fill="rgba(0,0,0,0.14)"/><rect x="460.38" y="849.70" width="3.8" height="2.5" fill="rgba(0,0,0,0.14)"/><rect x="473.72" y="849.70" width="3.8" height="2.5" fill="rgba(0,0,0,0.14)"/><rect x="487.06" y="849.70" width="3.8" height="2.5" fill="rgba(0,0,0,0.14)"/><rect x="500.40" y="849.70" width="3.8" height="2.5" fill="rgba(0,0,0,0.14)"/><rect x="513.74" y="849.70" width="3.8" height="2.5" fill="rgba(0,0,0,0.14)"/><rect x="527.08" y="849.70" width="3.8" height="2.5" fill="rgba(0,0,0,0.14)"/><rect x="540.42" y="849.70" width="3.8" height="2.5" fill="rgba(0,0,0,0.14)"/><rect x="553.76" y="849.70" width="3.8" height="2.5" fill="rgba(0,0,0,0.14)"/><rect x="567.10" y="849.70" width="3.8" height="2.5" fill="rgba(0,0,0,0.14)"/><rect x="580.44" y="849.70" width="3.8" height="2.5" fill="rgba(0,0,0,0.14)"/><rect x="593.78" y="849.70" width="3.8" height="2.5" fill="rgba(0,0,0,0.14)"/><rect x="607.12" y="849.70" width="3.8" height="2.5" fill="rgba(0,0,0,0.14)"/><rect x="620.46" y="849.70" width="3.8" height="2.5" fill="rgba(0,0,0,0.14)"/><rect x="633.80" y="849.70" width="3.8" height="2.5" fill="rgba(0,0,0,0.14)"/><rect x="647.14" y="849.70" width="3.8" height="2.5" fill="rgba(0,0,0,0.14)"/><rect x="660.48" y="849.70" width="3.8" height="2.5" fill="rgba(0,0,0,0.14)"/><rect x="673.82" y="849.70" width="3.8" height="2.5" fill="rgba(0,0,0,0.14)"/><rect x="687.16" y="849.70" width="3.8" height="2.5" fill="rgba(0,0,0,0.14)"/><rect x="700.50" y="849.70" width="3.8" height="2.5" fill="rgba(0,0,0,0.14)"/><rect x="713.84" y="849.70" width="3.8" height="2.5" fill="rgba(0,0,0,0.14)"/><rect x="727.18" y="849.70" width="3.8" height="2.5" fill="rgba(0,0,0,0.14)"/><rect x="740.52" y="849.70" width="3.8" height="2.5" fill="rgba(0,0,0,0.14)"/><rect x="753.86" y="849.70" width="3.8" height="2.5" fill="rgba(0,0,0,0.14)"/><rect x="767.20" y="849.70" width="3.8" height="2.5" fill="rgba(0,0,0,0.14)"/><rect x="780.54" y="849.70" width="3.8" height="2.5" fill="rgba(0,0,0,0.14)"/><rect x="793.88" y="849.70" width="3.8" height="2.5" fill="rgba(0,0,0,0.14)"/><rect x="807.22" y="849.70" width="3.8" height="2.5" fill="rgba(0,0,0,0.14)"/><rect x="820.56" y="849.70" width="3.8" height="2.5" fill="rgba(0,0,0,0.14)"/><rect x="833.90" y="849.70" width="3.8" height="2.5" fill="rgba(0,0,0,0.14)"/><rect x="847.24" y="849.70" width="3.8" height="2.5" fill="rgba(0,0,0,0.14)"/><rect x="860.58" y="849.70" width="3.8" height="2.5" fill="rgba(0,0,0,0.14)"/><rect x="873.92" y="849.70" width="3.8" height="2.5" fill="rgba(0,0,0,0.14)"/><rect x="887.26" y="849.70" width="3.8" height="2.5" fill="rgba(0,0,0,0.14)"/><rect x="900.60" y="849.70" width="3.8" height="2.5" fill="rgba(0,0,0,0.14)"/><rect x="913.94" y="849.70" width="3.8" height="2.5" fill="rgba(0,0,0,0.14)"/><rect x="927.28" y="849.70" width="3.8" height="2.5" fill="rgba(0,0,0,0.14)"/><rect x="940.62" y="849.70" width="3.8" height="2.5" fill="rgba(0,0,0,0.14)"/><rect x="953.96" y="849.70" width="3.8" height="2.5" fill="#858585"/><rect x="967.30" y="849.70" width="3.8" height="2.5" fill="#858585"/><rect x="980.64" y="849.70" width="3.8" height="2.5" fill="#858585"/><rect x="993.98" y="849.70" width="3.8" height="2.5" fill="#858585"/><rect x="1007.32" y="849.70" width="3.8" height="2.5" fill="#858585"/><rect x="1020.66" y="849.70" width="3.8" height="2.5" fill="#858585"/><rect x="1034.00" y="849.70" width="3.8" height="2.5" fill="#858585"/><rect x="1047.34" y="849.70" width="3.8" height="2.5" fill="#858585"/><rect x="1060.68" y="849.70" width="3.8" height="2.5" fill="#858585"/><rect x="1074.02" y="849.70" width="3.8" height="2.5" fill="#858585"/><rect x="1087.36" y="849.70" width="3.8" height="2.5" fill="#858585"/><rect x="1100.70" y="849.70" width="3.8" height="2.5" fill="#858585"/><rect x="260.5" y="213" width="17.5" height="30" fill="#eceef2"/><rect x="304" y="213" width="59.4" height="30" fill="#fdeacf"/><rect x="362.6" y="213" width="59.4" height="30" fill="#fdd9a2"/><rect x="421.2" y="213" width="59.4" height="30" fill="#fcc97b"/><rect x="479.8" y="213" width="59.4" height="30" fill="#fbb54c"/><rect x="538.4" y="213" width="59.4" height="30" fill="#e4765b"/><rect x="597" y="213" width="59.4" height="30" fill="#d55a43"/><rect x="655.6" y="213" width="59.4" height="30" fill="#c0322a"/><rect x="714.2" y="213" width="59.4" height="30" fill="#a2242d"/><rect x="772.8" y="213" width="59.4" height="30" fill="#962f66"/><rect x="831.4" y="213" width="59.4" height="30" fill="#7c2658"/><rect x="890" y="213" width="58.0" height="30" fill="#5d1f45"/><line x1="269" y1="199" x2="269" y2="212" stroke="#555" stroke-width="2"/><line x1="304.3" y1="199" x2="304.3" y2="220" stroke="#555" stroke-width="2"/><line x1="363.1" y1="199" x2="363.1" y2="220" stroke="#555" stroke-width="2"/><line x1="421" y1="199" x2="421" y2="220" stroke="#555" stroke-width="2"/><line x1="479.8" y1="199" x2="479.8" y2="220" stroke="#555" stroke-width="2"/><line x1="714.2" y1="199" x2="714.2" y2="214" stroke="#555" stroke-width="2"/><line x1="889.8" y1="199" x2="889.8" y2="214" stroke="#555" stroke-width="2"/></svg>
<div class="t" id="title" style="left:28.26px;top:32.35px;font-size:57px;transform:scaleX(0.9422);font-weight:bold;color:#0a0a0a;-webkit-text-stroke:0.8px #0a0a0a">Dónde causa más muertes el coronavirus</div>
<div class="t" id="sub" style="left:28.04px;top:105.30px;font-size:34px;transform:scaleX(0.9762);-webkit-text-stroke:1px #111;color:#111">Cantidad de muertes por día en los países más afectados, al 29 de marzo</div>
<div class="t" id="m1" style="left:30.00px;top:176.65px;font-size:31px;transform:scaleX(1.0039);font-style:italic;color:#2a2a2a">Muertes</div>
<div class="t" id="m2" style="left:29.93px;top:211.72px;font-size:31.5px;transform:scaleX(1.0388);font-style:italic;color:#2a2a2a">diarias:</div>
<div class="t" id="n0" style="left:258.51px;top:162.60px;font-size:32px;transform:scaleX(1.0232);font-style:italic;color:#2a2a2a">0</div>
<div class="t" id="n1" style="left:295.01px;top:162.60px;font-size:32px;transform:scaleX(0.9672);font-style:italic;color:#2a2a2a">1</div>
<div class="t" id="n10" style="left:345.58px;top:162.60px;font-size:32px;transform:scaleX(0.9576);font-style:italic;color:#2a2a2a">10</div>
<div class="t" id="n50" style="left:403.64px;top:162.60px;font-size:32px;transform:scaleX(0.9804);font-style:italic;color:#2a2a2a">50</div>
<div class="t" id="n100" style="left:454.03px;top:162.60px;font-size:32px;transform:scaleX(0.9699);font-style:italic;color:#2a2a2a">100</div>
<div class="t" id="n500" style="left:687.08px;top:162.50px;font-size:32px;transform:scaleX(0.9860);font-style:italic;color:#2a2a2a">500</div>
<div class="t" id="n800" style="left:865.07px;top:162.50px;font-size:32px;transform:scaleX(0.9444);font-style:italic;color:#2a2a2a">800</div>
<div class="t" id="tt1" style="left:1002.09px;top:175.62px;font-size:33.5px;transform:scaleX(0.9801);font-style:italic;color:#2a2a2a">Total</div>
<div class="t" id="tt2" style="left:1007.58px;top:214.27px;font-size:30.5px;transform:scaleX(0.8964);font-style:italic;color:#2a2a2a">al 29</div>
<div class="t" id="tt3" style="left:980.11px;top:249.68px;font-size:30.5px;transform:scaleX(0.9124);font-style:italic;color:#2a2a2a">de marzo</div>
<div class="t" id="l0" style="left:29.39px;top:332.32px;font-size:30.8px;transform:scaleX(1.0427);-webkit-text-stroke:1.2px #111">ITALIA</div>
<div class="t" id="l1" style="left:29.50px;top:426.82px;font-size:30.8px;transform:scaleX(0.9849);-webkit-text-stroke:1.2px #111">ESPAÑA</div>
<div class="t" id="l2" style="left:30.52px;top:491.92px;font-size:30.8px;transform:scaleX(0.9906);-webkit-text-stroke:1.2px #111">CHINA</div>
<div class="t" id="l2b" style="left:29.82px;top:526.55px;font-size:31px;transform:scaleX(1.0898);-webkit-text-stroke:0.5px #111">(continental)</div>
<div class="t" id="l3" style="left:29.97px;top:618.32px;font-size:30.8px;transform:scaleX(1.0025);-webkit-text-stroke:1.2px #111">IRÁN</div>
<div class="t" id="l4" style="left:29.09px;top:713.52px;font-size:30.8px;transform:scaleX(0.9792);-webkit-text-stroke:1.2px #111">FRANCIA</div>
<div class="t" id="l5" style="left:29.01px;top:809.02px;font-size:30.8px;transform:scaleX(1.0026);-webkit-text-stroke:1.2px #111">EEUU</div>
<div class="t" id="v0" style="left:989.89px;top:332.52px;font-size:30.8px;transform:scaleX(1.0572);-webkit-text-stroke:1.1px #111">10.779</div>
<div class="t" id="v1" style="left:999.42px;top:427.02px;font-size:30.8px;transform:scaleX(1.0459);-webkit-text-stroke:1.1px #111">6.528</div>
<div class="t" id="v2" style="left:999.42px;top:518.62px;font-size:30.8px;transform:scaleX(1.0457);-webkit-text-stroke:1.1px #111">3.300</div>
<div class="t" id="v3" style="left:999.46px;top:618.52px;font-size:30.8px;transform:scaleX(1.0363);-webkit-text-stroke:1.1px #111">2.640</div>
<div class="t" id="v4" style="left:999.47px;top:713.82px;font-size:30.8px;transform:scaleX(1.0363);-webkit-text-stroke:1.1px #111">2.606</div>
<div class="t" id="v5" style="left:999.47px;top:809.42px;font-size:30.8px;transform:scaleX(1.0496);-webkit-text-stroke:1.1px #111">2.351</div>
</body></html>
